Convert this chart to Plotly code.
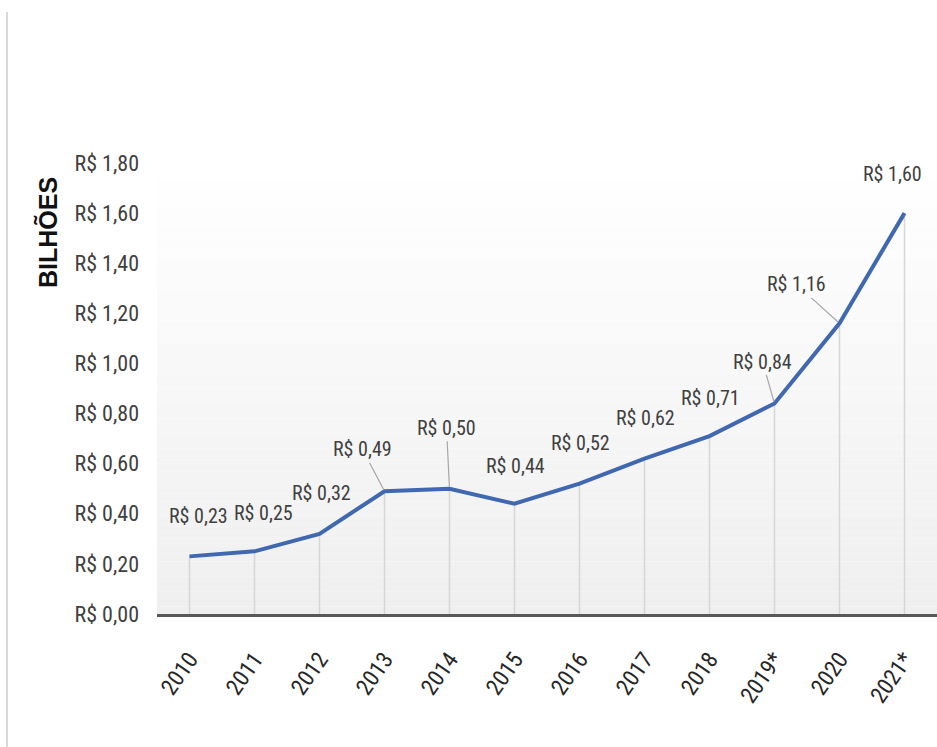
import plotly.graph_objects as go

# Receita anual (R$ bilhões)
anos = ["2010", "2011", "2012", "2013", "2014", "2015", "2016", "2017", "2018", "2019*", "2020", "2021*"]
valores = [0.23, 0.25, 0.32, 0.49, 0.50, 0.44, 0.52, 0.62, 0.71, 0.84, 1.16, 1.60]
ticks_y = [0.0, 0.2, 0.4, 0.6, 0.8, 1.0, 1.2, 1.4, 1.6, 1.8]

# offsets (px) of each value label relative to its point; leader line shown or not
label_dx = [9, 9, 2, -22, -3, 1, 1, 1, 1, -12, -43, -12]
label_dy = [-40, -38, -41, -42, -61, -38, -41, -41, -38, -42, -39, -39]
leader = [False, False, False, True, True, False, False, False, False, True, True, False]


def brl(v):
    return "R$ " + f"{v:.2f}".replace(".", ",")


W, H = 937, 747
L, R, T, B = 157, 0, 163, 133
plot_h = H - T - B
plot_w = W - L - R

NARROW = "Liberation Sans Narrow, Arial Narrow, Roboto Condensed, Liberation Sans, sans-serif"

idx = list(range(len(anos)))

fig = go.Figure()

# vertical drop lines from each point to the axis
dx, dy = [], []
for i, v in zip(idx, valores):
    dx += [i, i, None]
    dy += [0, v, None]
fig.add_trace(go.Scatter(x=dx, y=dy, mode="lines",
                         line=dict(color="#d6d6d6", width=1.5),
                         hoverinfo="skip", showlegend=False))

fig.add_trace(go.Scatter(x=idx, y=valores, mode="lines",
                         line=dict(color="#4068b0", width=4),
                         showlegend=False))

# soft vertical gradient behind the plot area (white -> light gray)
shapes = []
n = 60
for k in range(n):
    t = (k + 0.5) / n
    c = int(round(255 - 16 * t))
    shapes.append(dict(type="rect", xref="paper", yref="paper",
                       x0=0, x1=1, y0=1 - (k + 1) / n, y1=1 - k / n,
                       fillcolor=f"rgb({c},{c},{c})", line=dict(width=0),
                       layer="below"))

# thin frame line on the left edge of the page
shapes.append(dict(type="line", xref="paper", yref="paper",
                   x0=(7 - L) / plot_w, x1=(7 - L) / plot_w,
                   y0=-B / plot_h - 0.01, y1=(H - B - 12) / plot_h,
                   line=dict(color="#d9d9d9", width=2)))

annotations = []
for i, v in enumerate(valores):
    annotations.append(dict(
        x=i, y=v, xref="x", yref="y", text=brl(v),
        showarrow=True, ax=label_dx[i], ay=label_dy[i],
        arrowhead=0, arrowwidth=1.2, standoff=2,
        arrowcolor="#a6a6a6" if leader[i] else "rgba(0,0,0,0)",
        font=dict(family=NARROW, size=20, color="#404040"),
    ))

annotations.append(dict(
    x=(48 - L) / plot_w, y=(H - B - 233) / plot_h, xref="paper", yref="paper",
    xanchor="center", yanchor="middle",
    text="<b>BILHÕES</b>", showarrow=False, textangle=-90,
    font=dict(family="Liberation Sans, Arial, sans-serif", size=25, color="#111111"),
))

fig.update_layout(
    width=W, height=H,
    margin=dict(l=L, r=R, t=T, b=B),
    paper_bgcolor="white", plot_bgcolor="white",
    shapes=shapes, annotations=annotations,
    xaxis=dict(
        range=[-0.5, len(anos) - 0.5],
        tickmode="array", tickvals=idx, ticktext=anos,
        tickangle=-55, showgrid=False, zeroline=False,
        showline=True, linecolor="#595959", linewidth=2.5,
        ticks="", ticklabelstandoff=20,
        tickfont=dict(family=NARROW, size=23, color="#262626"),
    ),
    yaxis=dict(
        range=[0, 1.8],
        tickmode="array", tickvals=ticks_y, ticktext=[brl(v) for v in ticks_y],
        showgrid=False, zeroline=False, showline=False, ticks="",
        ticklabelstandoff=17,
        tickfont=dict(family=NARROW, size=22, color="#404040"),
    ),
)

fig.write_html("out.html")
